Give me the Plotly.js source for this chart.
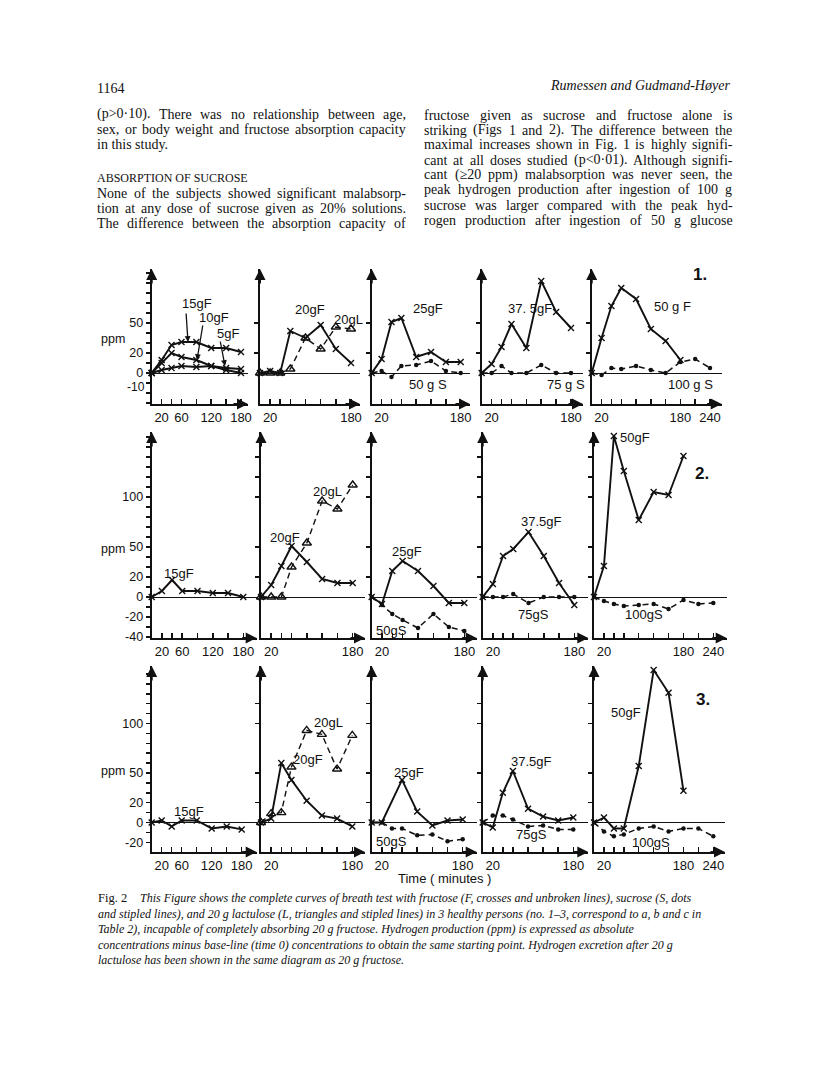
<!DOCTYPE html>
<html><head><meta charset="utf-8">
<script src="https://cdn.plot.ly/plotly-3.0.1.min.js"></script>
<style>html,body{margin:0;padding:0;background:#fff}#chart{width:816px;height:1074px}</style>
</head><body><div id="chart"></div>
<script>
// ---------- DATA (ppm above baseline, time in minutes) ----------
const T8  = [0,20,40,60,90,120,150,180];
const T10 = [0,20,40,60,90,120,150,180,210,240];
const T7  = [0,20,60,90,120,150,180];

// Person 1
const p1_F15  = [0,13,28,31,31,25,25,21];
const p1_F10  = [0,10,20,16,13,7,5,4];
const p1_F5   = [0,3,5,7,6,7,3,0];
const p1_F20  = [0,2,0,42,35,48,24,10];
const p1_L20  = [0,0,0,4,35,24,46,44];
const p1_F25  = [0,14,51,55,16,21,11,11];
const p1_S50  = [0,2,-4,7,8,12,2,0];
const p1_F375 = [0,9,26,49,25,92,61,45];
const p1_S75  = [0,0,7,0,0,8,0,0];
const p1_F50  = [0,35,67,85,74,44,32,13];
const p1_S100 = [0,-2,5,4,7,3,0,11,14,5];
// Person 2
const p2_F15  = [0,6,17,6,6,4,4,0];
const p2_F20  = [0,12,31,51,35,18,14,14];
const p2_L20  = [0,0,0,30,54,96,88,112];
const p2_F25  = [0,-7,26,36,26,11,-6,-6];
const p2_S50  = [0,-8,-17,-23,-31,-17,-30,-34];
const p2_F375 = [0,13,41,48,65,41,14,-8];
const p2_S75  = [0,0,0,3,-6,0,0,0];
const p2_F50  = [0,31,161,126,77,105,102,141];
const p2_S100 = [0,-4,-7,-9,-8,-7,-12,-3,-7,-6];
// Person 3
const p3_F15  = [0,2,-4,2,2,-6,-4,-7];
const p3_F20  = [0,4,60,43,22,7,4,-4];
const p3_L20  = [0,9,10,56,93,89,54,88];
const p3_F25  = [0,0,43,11,-3,2,3];
const p3_S50  = [0,0,-6,-6,-13,-12,-19,-17];
const p3_F375 = [0,-5,30,52,14,6,2,5];
const p3_S75  = [0,7,7,3,-4,-3,-7,-7];
const p3_F50  = [0,5,-6,-6,57,154,131,32];
const p3_S100 = [0,-9,-14,-12,-6,-4,-9,-6,-6,-14];

// tick labels
const xTickVals180 = [20,40,60,90,120,150,180];
const xTickTextFirst = ['20','','60','','120','','180'];
const xTickText180 = ['20','','','','','','180'];
const xTickVals240 = [20,40,60,90,120,150,180,210,240];
const xTickText240 = ['20','','','','','','180','','240'];
const yLabelsRow = [
  {'50':'50','20':'20','0':'0'},
  {'100':'100','50':'50','20':'20','0':'0','-20':'-20','-40':'-40'},
  {'100':'100','50':'50','20':'20','0':'0','-20':'-20'}
];
const yExtraLabel = ['-10', 145.5, 387];   // row-1 label drawn below the crowded zero label
const yMinorRow = [[20,50],[20,50,100,120,140],[20,50,100,120]];

// panel series
const panels = [
  [[T8,p1_F15,'F'],[T8,p1_F10,'F'],[T8,p1_F5,'F']],
  [[T8,p1_F20,'F'],[T8,p1_L20,'L']],
  [[T8,p1_S50,'S'],[T8,p1_F25,'F']],
  [[T8,p1_S75,'S'],[T8,p1_F375,'F']],
  [[T10,p1_S100,'S'],[T8,p1_F50,'F']],
  [[T8,p2_F15,'F']],
  [[T8,p2_L20,'L'],[T8,p2_F20,'F']],
  [[T8,p2_S50,'S'],[T8,p2_F25,'F']],
  [[T8,p2_S75,'S'],[T8,p2_F375,'F']],
  [[T10,p2_S100,'S'],[T8,p2_F50,'F']],
  [[T8,p3_F15,'F']],
  [[T8,p3_L20,'L'],[T8,p3_F20,'F']],
  [[T8,p3_S50,'S'],[T7,p3_F25,'F']],
  [[T8,p3_S75,'S'],[T8,p3_F375,'F']],
  [[T10,p3_S100,'S'],[T8,p3_F50,'F']]
];

// series labels
const seriesLabels = [
  ['15gF',197,303],['10gF',214,318],['5gF',228,334],['20gF',310,309],['20gL',348,319],
  ['25gF',428,308],['50 g S',428,384],['37. 5gF',530,308],['75 g S',566,384],['50 g F',672,307],['100 g S',690,384],
  ['15gF',179,573],['20gF',285,537],['20gL',327,491],['25gF',407,551],['50gS',391,630],
  ['37.5gF',541,521],['75gS',533,614],['50gF',635,437],['100gS',644,614],
  ['15gF',189,811],['20gL',328,722],['20gF',308,759],['25gF',409,772],['50gS',391,841],
  ['37.5gF',531,761],['75gS',531,834],['50gF',626,712],['100gS',651,842],
  ['Time ( minutes )',445,878]
];
const personLabels = [['1.',700,274],['2.',702,474],['3.',703,699]];
const ppmLabels = [['ppm',100,339],['ppm',100,549],['ppm',100,771]];

// page text
const headerLeft = '1164';
const headerRight = 'Rumessen and Gudmand-Høyer';
const leftCol = [
  ['(p>0·10). There was no relationship between age,',114,true],
  ['sex, or body weight and fructose absorption capacity',129.5,true],
  ['in this study.',145,false],
  ['None of the subjects showed significant malabsorp-',193,true],
  ['tion at any dose of sucrose given as 20% solutions.',208,true],
  ['The difference between the absorption capacity of',223,true]
];
const heading = 'ABSORPTION OF SUCROSE';
const rightCol = [
  'fructose given as sucrose and fructose alone is',
  'striking (Figs 1 and 2). The difference between the',
  'maximal increases shown in Fig. 1 is highly signifi-',
  'cant at all doses studied (p<0·01). Although signifi-',
  'cant (≥20 ppm) malabsorption was never seen, the',
  'peak hydrogen production after ingestion of 100 g',
  'sucrose was larger compared with the peak hyd-',
  'rogen production after ingestion of 50 g glucose'
];
const captionHead = 'Fig. 2';
const caption = [
  'This Figure shows the complete curves of breath test with fructose (F, crosses and unbroken lines), sucrose (S, dots',
  'and stipled lines), and 20 g lactulose (L, triangles and stipled lines) in 3 healthy persons (no. 1–3, correspond to a, b and c in',
  'Table 2), incapable of completely absorbing 20 g fructose. Hydrogen production (ppm) is expressed as absolute',
  'concentrations minus base-line (time 0) concentrations to obtain the same starting point. Hydrogen excretion after 20 g',
  'lactulose has been shown in the same diagram as 20 g fructose.'
];

// ---------- GEOMETRY ----------
const W = 816, H = 1074;
const PX = x => x / W, PY = y => 1 - y / H;
const rowGeom = [
  {zero:373, top:269, base:404, s:1.0},
  {zero:597, top:432, base:638, s:1.0},
  {zero:822.5, top:666, base:852, s:0.99}
];
const colGeom = [
  [[151.7,241,180,248],[260,351,180,360],[371.7,460.7,180,470],[481.7,571,180,583],[591.7,710,240,721.7]],
  [[151.7,243.3,180,256.7],[261,352.7,180,365],[371.7,464.3,180,476.7],[482.7,574.3,180,588.3],[594,713.3,240,726.7]],
  [[151.7,241.7,180,256.7],[261,352.3,180,365],[371.7,462.7,180,476.7],[482.7,573.3,180,588.3],[594,713.3,240,725]]
];

const sans = 'Liberation Sans', serif = 'Liberation Serif';
const ink = '#111';
const traces = [];
const layout = {
  width: W, height: H, margin: {l:0,r:0,t:0,b:0},
  paper_bgcolor: '#fff', plot_bgcolor: 'rgba(0,0,0,0)', showlegend: false,
  annotations: []
};
const ann = layout.annotations;

for (let r = 0; r < 3; r++) {
  const g = rowGeom[r];
  for (let c = 0; c < 5; c++) {
    const n = r*5 + c + 1;
    const [x0, xr, tr, xe] = colGeom[r][c];
    const sx = (xr - x0) / tr;
    const xa = 'xaxis' + (n > 1 ? n : ''), ya = 'yaxis' + (n > 1 ? n : '');
    const yMin = -(g.base - g.zero) / g.s, yMax = (g.zero - g.top) / g.s;
    let yv, yt;
    if (c === 0) {
      yv = []; yt = [];
      for (let v = Math.ceil(yMin/10)*10; v <= yMax; v += 10) { yv.push(v); yt.push(yLabelsRow[r][String(v)] || ''); }
    } else { yv = yMinorRow[r]; yt = yv.map(() => ''); }
    const is240 = tr === 240;
    layout[xa] = {
      domain: [PX(x0), PX(xe)], range: [0, (xe - x0) / sx], anchor: 'y' + n,
      showline: true, linewidth: 2, linecolor: ink, showgrid: false, zeroline: false,
      ticks: 'inside', ticklen: 5, tickwidth: 1.5, tickcolor: ink,
      tickvals: is240 ? xTickVals240 : xTickVals180,
      ticktext: is240 ? xTickText240 : (c === 0 ? xTickTextFirst : xTickText180),
      tickfont: {family: sans, size: 13, color: ink}, tickangle: 0, fixedrange: true
    };
    layout[ya] = {
      domain: [PY(g.base), PY(g.top)], range: [yMin, yMax], anchor: 'x' + n,
      showline: true, linewidth: 2, linecolor: ink, showgrid: false,
      zeroline: true, zerolinewidth: 1, zerolinecolor: ink,
      ticks: 'outside', ticklen: 4, tickwidth: 1.5, tickcolor: ink,
      tickvals: yv, ticktext: yt,
      tickfont: {family: sans, size: 12.5, color: ink}, fixedrange: true
    };
    // axis arrows
    ann.push({x: PX(x0), y: PY(g.top), xref:'paper', yref:'paper', text:'', showarrow:true,
      ax:0, ay:16, arrowhead:2, arrowsize:1.1, arrowwidth:2, arrowcolor:ink, standoff:0});
    ann.push({x: PX(xe), y: PY(g.base), xref:'paper', yref:'paper', text:'', showarrow:true,
      ax:-16, ay:0, arrowhead:2, arrowsize:1.1, arrowwidth:2, arrowcolor:ink, standoff:0});

    panels[n-1].forEach(([t, v, k]) => {
      const tr0 = {type:'scatter', mode:'lines+markers', x:t, y:v, xaxis:'x'+n, yaxis:'y'+n,
        cliponaxis:false, hoverinfo:'skip'};
      if (k === 'F') {
        tr0.line = {color: ink, width: 1.9};
        tr0.marker = {symbol:'x-thin', size:6, color: ink, line:{width:1.4, color: ink}};
      } else if (k === 'S') {
        tr0.line = {color: ink, width: 1.5, dash: '6px,4px'};
        tr0.marker = {symbol:'circle', size:4.5, color: ink};
      } else {
        tr0.line = {color: ink, width: 1.4, dash: '6px,4px'};
        tr0.marker = {symbol:'triangle-up-open', size:8, color: ink, line:{width:1.4, color: ink}};
      }
      traces.push(tr0);
    });
  }
}

// extra y label (row 1, panel 1)
ann.push({text: yExtraLabel[0], x: PX(yExtraLabel[1]), y: PY(yExtraLabel[2]), xref:'paper', yref:'paper',
  xanchor:'right', yanchor:'middle', showarrow:false, borderpad:0, font:{family: sans, size: 12, color: ink}});

// labels
seriesLabels.forEach(([t, x, y]) => ann.push({text: t, x: PX(x), y: PY(y), xref:'paper', yref:'paper',
  xanchor:'center', yanchor:'middle', showarrow:false, borderpad:0, font:{family: sans, size: 13, color: ink}}));
personLabels.forEach(([t, x, y]) => ann.push({text: t, x: PX(x), y: PY(y), xref:'paper', yref:'paper',
  xanchor:'center', yanchor:'middle', showarrow:false, borderpad:0, font:{family: sans, size: 17, color: ink, weight: 'bold'}}));
ppmLabels.forEach(([t, x, y]) => ann.push({text: t, x: PX(x), y: PY(y), xref:'paper', yref:'paper',
  xanchor:'left', yanchor:'middle', showarrow:false, borderpad:0, font:{family: sans, size: 12.5, color: ink}}));

// pointer arrows for panel 1 labels
[[188,342,-2,-30],[197,360,6,-36],[225,366,-5,-26]].forEach(([x,y,ax,ay]) => ann.push({
  x: PX(x), y: PY(y), xref:'paper', yref:'paper', text:'', showarrow:true, ax:ax, ay:ay,
  arrowhead:2, arrowsize:0.9, arrowwidth:1.3, arrowcolor: ink, standoff:0}));

// page text
const ctx = document.createElement('canvas').getContext('2d');
const esc = s => s.replace(/&/g,'&amp;').replace(/</g,'&lt;').replace(/>/g,'&gt;');
function addLine(str, x0, x1, y, size, justify, italic) {
  const fcss = (italic ? 'italic ' : '') + size + 'px "' + serif + '"';
  const f = {family: serif, size: size, color: ink, style: italic ? 'italic' : 'normal'};
  const base = {xref:'paper', yref:'paper', xanchor:'left', yanchor:'middle', showarrow:false, borderpad:0, font:f};
  if (!justify) { ann.push(Object.assign({text: esc(str), x: PX(x0), y: PY(y)}, base)); return; }
  ctx.font = fcss;
  const words = str.split(' ');
  const ws = words.map(w => ctx.measureText(w).width);
  const gap = (x1 - x0 - ws.reduce((a,b)=>a+b,0)) / (words.length - 1);
  let pos = x0;
  words.forEach((w, i) => { ann.push(Object.assign({text: esc(w), x: PX(pos), y: PY(y)}, base)); pos += ws[i] + gap; });
}
addLine(headerLeft, 96, 0, 88, 14, false, false);
ann.push({text: headerRight, x: PX(731), y: PY(86), xref:'paper', yref:'paper', xanchor:'right', yanchor:'middle',
  showarrow:false, borderpad:0, font:{family: serif, size: 14, color: ink, style:'italic'}});
leftCol.forEach(([s, y, j]) => addLine(s, 96, 405, y, 14, j, false));
addLine(heading, 96, 0, 178, 12, false, false);
rightCol.forEach((s, i) => addLine(s, 423, 731.5, 115 + i*15, 14, true, false));
addLine(captionHead, 97, 0, 898, 12.5, false, false);
caption.forEach((s, i) => addLine(s, i === 0 ? 139 : 97, 0, 898 + i*15.5, 12, false, true));

Plotly.newPlot('chart', traces, layout, {staticPlot: true});
</script>
</body></html>
